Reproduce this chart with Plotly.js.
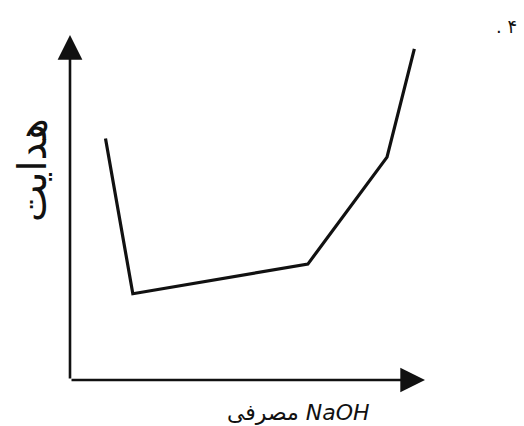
<!DOCTYPE html>
<html><head><meta charset="utf-8">
<script src="https://cdn.plot.ly/plotly-3.0.1.min.js"></script>
<style>html,body{margin:0;padding:0;background:#fff}#c{width:524px;height:426px}</style>
</head><body><div id="c"></div>
<script>
// NaOH volume (arbitrary units) and conductivity (arbitrary units)
const naohVolume = [10, 17.7, 67, 89.3, 97];
const conductivity = [70, 25, 33.6, 64.6, 96];
const yLabel = "هدایت";
const xLabel = "مصرفی <i>NaOH</i>";
const itemNumber = ". ۴";

const trace = {
  x: naohVolume, y: conductivity, type: 'scatter', mode: 'lines',
  line: {color: '#111', width: 3.2}, hoverinfo: 'skip'
};
const axisCommon = {range: [0, 100], showgrid: false, zeroline: false, showticklabels: false, ticks: '', showline: false, fixedrange: true};
const W = 355, H = 345, L = 70, B0 = 380;
const px = v => (v - L) / W, py = v => (B0 - v) / H;
const layout = {
  width: 524, height: 426,
  margin: {l: 70, r: 99, t: 35, b: 46},
  paper_bgcolor: '#fff', plot_bgcolor: '#fff',
  showlegend: false,
  xaxis: Object.assign({}, axisCommon),
  yaxis: Object.assign({}, axisCommon),
  annotations: [
    {x: 0, y: 100, ax: 0, ay: 0, xref: 'x', yref: 'y', axref: 'x', ayref: 'y', text: '', showarrow: true,
     arrowhead: 2, arrowsize: 1.9, arrowwidth: 2.6, arrowcolor: '#111'},
    {x: 100, y: 0, ax: 0, ay: 0, xref: 'x', yref: 'y', axref: 'x', ayref: 'y', text: '', showarrow: true,
     arrowhead: 2, arrowsize: 1.9, arrowwidth: 2.6, arrowcolor: '#111'},
    {x: px(32), y: py(170), xref: 'paper', yref: 'paper', xanchor: 'center', yanchor: 'middle',
     text: yLabel, showarrow: false, textangle: -90,
     font: {family: 'DejaVu Sans', size: 40, color: '#111'}},
    {x: px(298), y: py(412), xref: 'paper', yref: 'paper', xanchor: 'center', yanchor: 'middle',
     text: xLabel, showarrow: false,
     font: {family: 'DejaVu Sans', size: 22, color: '#111'}},
    {x: px(507), y: py(27), xref: 'paper', yref: 'paper', xanchor: 'center', yanchor: 'middle',
     text: itemNumber, showarrow: false,
     font: {family: 'DejaVu Sans', size: 18, color: '#111'}}
  ]
};
Plotly.newPlot('c', [trace], layout, {staticPlot: true, displayModeBar: false});
</script></body></html>
